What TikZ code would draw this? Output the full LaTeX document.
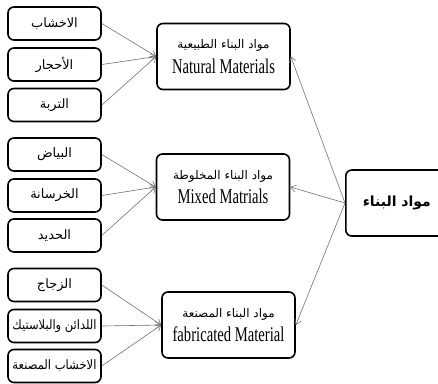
\documentclass[tikz,border=0pt]{standalone}
\usepackage{fontspec}
\usepackage{graphicx}
\setmainfont{Liberation Serif}
\newfontfamily\arabicfont[Script=Arabic]{DejaVu Sans}
\newfontfamily\engfont[FakeStretch=0.7]{Liberation Serif}
\TeXXeTstate=1
\usetikzlibrary{arrows.meta}
\begin{document}
\begin{tikzpicture}[x=1bp,y=-1bp,
  box/.style={draw=black,line width=1.6bp,rounded corners=6bp,fill=white,inner sep=0pt,align=center},
  small/.style={box,minimum width=93bp,minimum height=33bp,font=\arabicfont\fontsize{13}{15}\selectfont},
  cat/.style={box,minimum width=133bp,minimum height=66bp},
  conn/.style={draw=black!55,line width=0.6bp,-{Straight Barb[length=5bp,width=7bp]}}]
\useasboundingbox (0,0) rectangle (438,383);
\clip (0,0) rectangle (438,383);
\fill[white] (0,0) rectangle (438,383);
% category boxes
\node[cat] (nat) at (223.5,56.5) {{\arabicfont\fontsize{12}{14}\selectfont\beginR مواد البناء الطبيعية\endR}\\[6bp]{\engfont\fontsize{21}{22}\selectfont Natural Materials}};
\node[cat] (mix) at (223,187) {{\arabicfont\fontsize{12}{14}\selectfont\beginR مواد البناء المخلوطة\endR}\\[6bp]{\engfont\fontsize{21}{22}\selectfont Mixed Matrials}};
\node[cat] (fab) at (228.5,325) {{\arabicfont\fontsize{12}{14}\selectfont\beginR مواد البناء المصنعة\endR}\\[6bp]{\engfont\fontsize{21}{22}\selectfont fabricated Material}};
% main box
\node[box,minimum width=100bp,minimum height=66bp,anchor=west,font=\arabicfont\bfseries\fontsize{14}{16}\selectfont] (main) at (345,203) {\hspace*{17bp}\beginR مواد البناء\endR\hspace*{22bp}};
% small boxes
\node[small] (a1) at (54.5,23.5) {\beginR الاخشاب\endR};
\node[small] (a2) at (54.5,64.5) {\beginR الأحجار\endR};
\node[small] (a3) at (54.5,105) {\beginR التربة\endR};
\node[small] (b1) at (54.5,154.5) {\beginR البياض\endR};
\node[small] (b2) at (54.5,195.5) {\beginR الخرسانة\endR};
\node[small] (b3) at (54.5,235.5) {\beginR الحديد\endR};
\node[small] (c1) at (54.5,285) {\beginR الزجاج\endR};
\node[small] (c2) at (54.5,326) {\resizebox{84bp}{\height}{\beginR اللدائن والبلاستيك\endR}};
\node[small] (c3) at (54.5,366) {\resizebox{84bp}{\height}{\beginR الاخشاب المصنعة\endR}};
% connectors
\foreach \s in {a1,a2,a3} \draw[conn] (\s.east) -- (nat.west);
\foreach \s in {b1,b2,b3} \draw[conn] (\s.east) -- (mix.west);
\foreach \s in {c1,c2,c3} \draw[conn] (\s.east) -- (fab.west);
\draw[conn] (main.west) -- (nat.east);
\draw[conn] (main.west) -- (mix.east);
\draw[conn] (main.west) -- (fab.east);
\end{tikzpicture}
\end{document}
